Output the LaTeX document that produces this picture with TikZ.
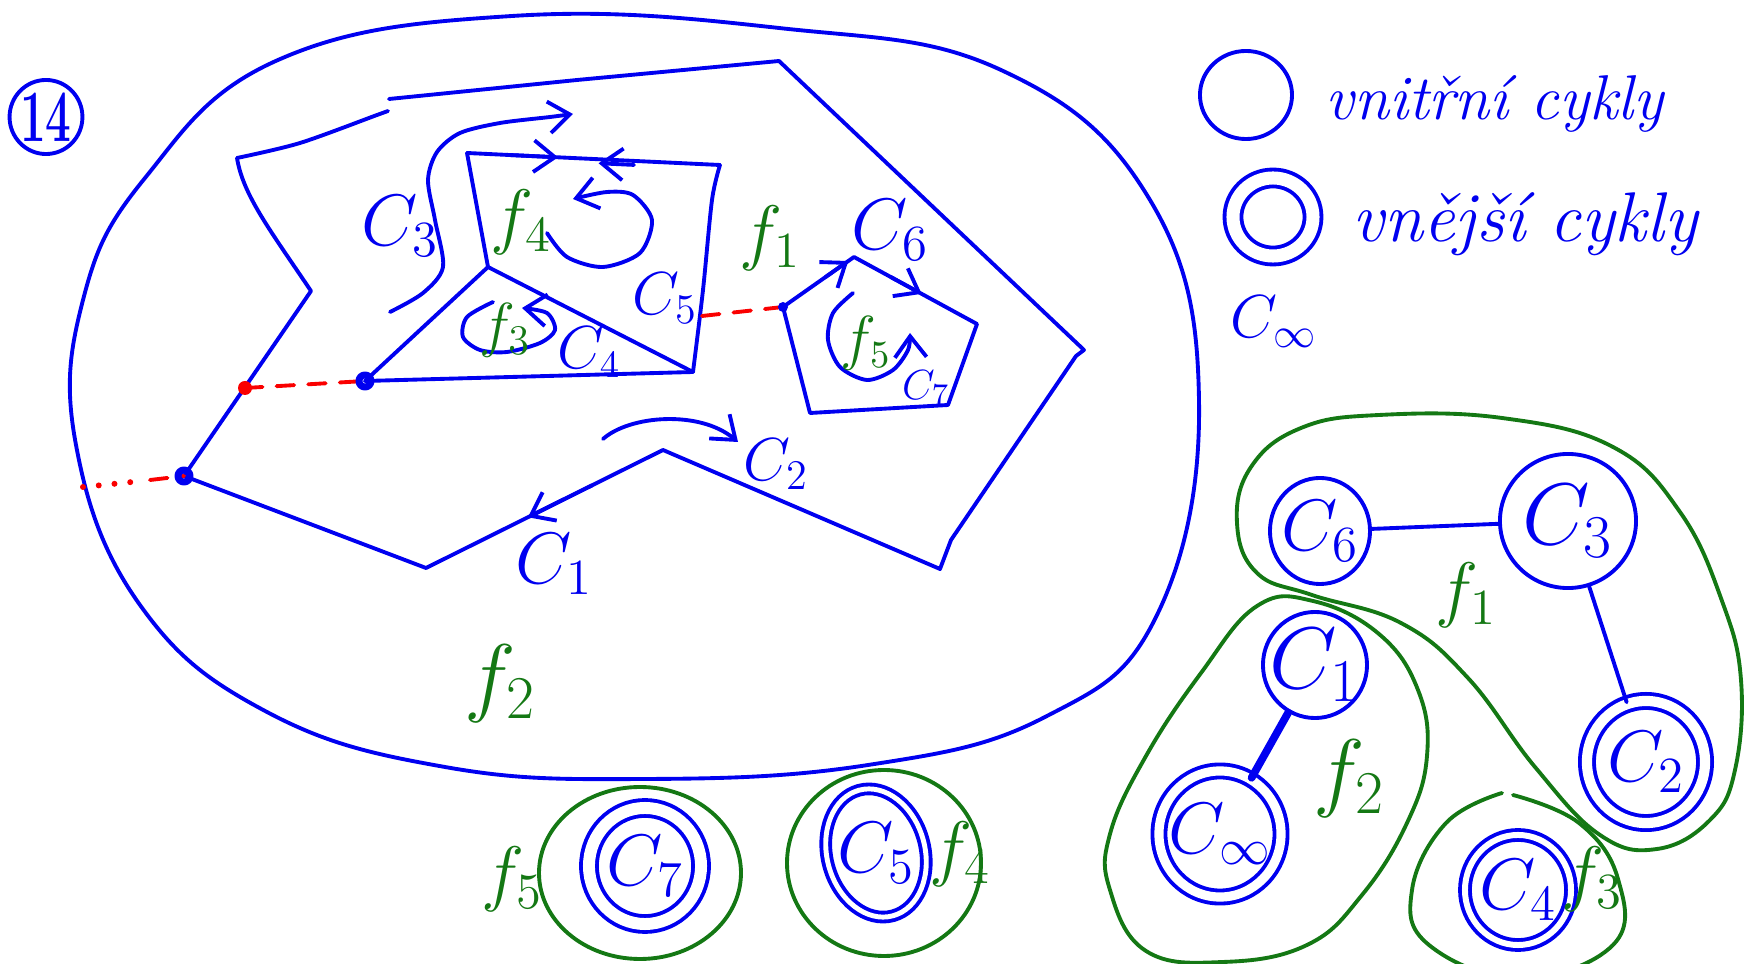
\documentclass[tikz,border=0pt]{standalone}
\usepackage{amsmath,amssymb}
\usepackage{fontspec}
\usepackage{xcolor}
\usepackage{tikz}
\usetikzlibrary{shapes.geometric,arrows.meta,calc}

\definecolor{penblue}{RGB}{0,0,240}
\definecolor{pengreen}{RGB}{20,120,20}
\definecolor{penred}{RGB}{250,0,0}

\begin{document}
\begin{tikzpicture}[x=0.01cm, y=-0.01cm, line width=1.1pt, line cap=round, line join=round,
    >={Straight Barb[length=6pt,width=9pt]},
    pen/.style={draw=penblue},
    crayon/.style={draw=pengreen},
    reddash/.style={draw=penred, dash pattern=on 5pt off 4pt},
    reddot/.style={draw=penred, dash pattern=on 0pt off 4.5pt, line width=1.7pt},
    lbl/.style={text=penblue, font=\fontsize{20}{22}\selectfont},
    flbl/.style={text=pengreen, font=\fontsize{20}{22}\selectfont},
    cyc/.style={ellipse, draw=penblue, inner sep=0pt},
    dcyc/.style={cyc, double=white, double distance=#1},
    dcyc/.default=2.5pt]
\useasboundingbox (0,0) rectangle (1744,964);

% cislo ulohy
\node[draw=penblue, ellipse, minimum width=0.7cm, minimum height=0.74cm, inner sep=0pt,
      text=penblue] (num) at (46,117) {\scalebox{0.62}[1]{\fontsize{21}{22}\selectfont\bfseries 14}};

% vnejsi hranice grafu
\draw[pen] plot[smooth cycle, tension=0.7] coordinates {(512,16) (779,28) (1001,70) (1150,200)
    (1199,400) (1157,615) (1045,717) (868,765) (645,779) (445,767) (267,712) (140,605)
    (76,445) (83,300) (145,178) (278,60)};

% vnejsi mnohouhelnik
\coordinate (o1) at (389,99);
\coordinate (o2) at (779,61);
\coordinate (o3) at (1084,350);
\coordinate (o4) at (951,540);
\coordinate (o5) at (940,569);
\coordinate (pk) at (663,450);
\coordinate (bl) at (426,568);
\coordinate (vL) at (184,476);
\coordinate (nt) at (311,291);
\coordinate (tl) at (237,158);
\draw[pen] (o1) -- (577,80) -- (o2) -- (o3) -- (1076,356) -- (o4) -- (o5) -- (pk) -- (bl) -- (vL) -- (nt)
    .. controls (270,230) and (243,195) .. (tl);
\draw[pen] plot[smooth] coordinates {(tl) (300,143) (377,115) (388,111)};

% ctyrstena uvnitr
\coordinate (q1) at (467,153);
\coordinate (q2) at (720,165);
\coordinate (q3) at (693,372);
\coordinate (q4) at (365,381);
\coordinate (qi) at (488,267);
\coordinate (qr) at (702,316);
\draw[pen] (q1) -- (q2);
\draw[pen] plot[smooth] coordinates {(q2) (712,200) (703,290) (q3)};
\draw[pen] (q3) -- (q4) -- (qi) -- (q1);
\draw[pen] (qi) -- (q3);

% petiuhelnik
\coordinate (p1) at (783,307);
\coordinate (p2) at (854,257);
\coordinate (p3) at (977,324);
\coordinate (p4) at (948,405);
\coordinate (p5) at (810,413);
\draw[pen] (p1) -- (p2) -- (p3) -- (p4) -- (p5) -- cycle;

% mosty
\coordinate (rdot) at (245,388);
\coordinate (lft) at (83,487);
\draw[reddash] (rdot) -- (q4);
\draw[reddash] (qr) -- (p1);
\draw[reddot] (lft) -- (132,482);
\draw[reddash] (150,480) -- (vL);
\fill[penred] (rdot) circle (7);
\draw[pen, line width=2pt] (vL) circle (6);
\draw[pen, line width=2pt] (q4) circle (6);
\fill[penblue] (p1) circle (5);

% smery obchazeni
\draw[pen,->] ($(q1)!0.16!(q2)$) -- ($(q1)!0.36!(q2)$);
\draw[pen,->] ($(q1)!0.66!(q2)+(0,4)$) -- ($(q1)!0.52!(q2)+(0,4)$);
\draw[pen,->] ($(pk)!0.3!(bl)$) -- ($(pk)!0.57!(bl)$);
\draw[pen,->] ($(p1)!0.6!(p2)$) -- ($(p1)!0.92!(p2)$);
\draw[pen,->] ($(p2)!0.3!(p3)$) -- ($(p2)!0.55!(p3)$);
\draw[pen,->] plot[smooth] coordinates {(390,312) (423,293) (443,267) (435,220) (428,180)
    (437,152) (460,133) (500,123) (550,117) (573,114)};
\draw[pen,->] plot[smooth] coordinates {(547,233) (567,257) (603,267) (640,253) (652,220)
    (633,195) (607,192) (573,199)};
\draw[pen,->] plot[smooth] coordinates {(493,302) (467,317) (463,337) (480,350) (507,352)
    (540,343) (555,330) (547,313) (522,308)};
\draw[pen,->] plot[smooth] coordinates {(853,293) (833,313) (828,340) (840,367) (867,380)
    (893,370) (908,350) (910,333)};
\draw[pen,->] (603,439) .. controls (630,415) and (700,410) .. (738,442);

% popisky
\node[lbl] (lc3) at (400,226) {$C_3$};
\node[flbl] (lf4) at (521,222) {$f_4$};
\node[lbl, font=\fontsize{18}{20}\selectfont] (lc5) at (665,298) {$C_5$};
\node[flbl, font=\fontsize{18}{20}\selectfont] (lf3) at (505,330) {$f_3$};
\node[lbl, font=\fontsize{16}{18}\selectfont] (lc4) at (589,352) {$C_4$};
\node[flbl, font=\fontsize{21}{22}\selectfont] (lf1) at (770,238) {$f_1$};
\node[lbl] (lc6) at (890,230) {$C_6$};
\node[flbl, font=\fontsize{16}{18}\selectfont] (lf5) at (866,343) {$f_5$};
\node[lbl, font=\fontsize{13}{15}\selectfont] (lc7) at (926,388) {$C_7$};
\node[lbl, font=\fontsize{17}{19}\selectfont] (lc2) at (776,464) {$C_2$};
\node[lbl] (lc1) at (554,564) {$C_1$};
\node[flbl, font=\fontsize{24}{26}\selectfont] (lf2) at (500,684) {$f_2$};

% legenda
\node[cyc, minimum width=0.92cm, minimum height=0.88cm] (legin) at (1246,95) {};
\node[dcyc=3.7pt, minimum width=0.8cm, minimum height=0.78cm] (legout) at (1273,217) {};
\node[lbl, anchor=base west, inner sep=0pt, font=\fontsize{18}{22}\selectfont\itshape] (tin) at (1324,120) {vnitřní cykly};
\node[lbl, anchor=base west, inner sep=0pt, font=\fontsize{20}{22}\selectfont\itshape] (tout) at (1351,242) {vnější cykly};
\node[lbl, anchor=base west, inner sep=0pt, font=\fontsize{17}{19}\selectfont] (tinf) at (1229,338) {$C_\infty$};

% strom cyklu
\draw[crayon] plot[smooth cycle, tension=0.7] coordinates {(1379,415) (1502,418) (1613,447)
    (1680,512) (1722,601) (1741,680) (1735,770) (1710,820) (1657,849) (1600,835) (1535,767)
    (1468,678) (1401,623) (1312,595) (1257,573) (1237,523) (1251,467) (1301,428)};
\draw[crayon] plot[smooth cycle, tension=0.7] coordinates {(1257,606) (1313,601) (1379,634)
    (1418,690) (1427,756) (1407,823) (1362,895) (1307,945) (1223,962) (1146,951) (1110,890)
    (1110,834) (1146,756) (1201,673)};
\draw[crayon] plot[smooth, tension=0.7] coordinates {(1502,793) (1446,823) (1412,890) (1429,945)
    (1520,978) (1613,945) (1618,879) (1579,823) (1513,795)};
\draw[crayon] (640,873) ellipse [x radius=101, y radius=86];
\draw[crayon] (884,863) ellipse [x radius=97, y radius=93];

\node[cyc, minimum width=1.0cm, minimum height=1.06cm, lbl, font=\fontsize{21}{22}\selectfont] (c6) at (1320,531) {\makebox[0pt]{$C_6$}};
\node[cyc, minimum width=1.36cm, minimum height=1.34cm, lbl, font=\fontsize{27}{28}\selectfont] (c3) at (1568,521) {\makebox[0pt]{$C_3$}};
\node[cyc, minimum width=1.04cm, minimum height=1.06cm, lbl, font=\fontsize{23}{24}\selectfont] (c1) at (1315,665) {\makebox[0pt]{$C_1$}};
\node[dcyc=2.6pt, minimum width=1.22cm, minimum height=1.26cm, lbl, font=\fontsize{21}{22}\selectfont] (cinf) at (1220,834) {\makebox[0pt]{$C_\infty$}};
\node[dcyc=2.9pt, minimum width=1.18cm, minimum height=1.22cm, lbl, font=\fontsize{22}{24}\selectfont] (c2) at (1646,762) {\makebox[0pt]{$C_2$}};
\node[dcyc=1.7pt, minimum width=1.06cm, minimum height=1.10cm, lbl, font=\fontsize{20}{22}\selectfont] (c4) at (1518,890) {\makebox[0pt]{$C_4$}};
\node[dcyc=3.4pt, minimum width=1.12cm, minimum height=1.16cm, lbl] (c7) at (645,866) {\makebox[0pt]{$C_7$}};
\node[dcyc=1.4pt, minimum width=0.98cm, minimum height=1.3cm, rotate=15] (c5) at (876,853) {};
\node[lbl] (lc5b) at (c5) {$C_5$};
\draw[pen] (c6) -- (c3);
\draw[pen] (c3) -- (c2);
\draw[pen, line width=2.2pt] (c1) -- (cinf);

\node[flbl, font=\fontsize{22}{24}\selectfont] (tf1) at (1466,595) {$f_1$};
\node[flbl, font=\fontsize{24}{26}\selectfont] (tf2) at (1349,779) {$f_2$};
\node[flbl] (tf3) at (1592,879) {$f_3$};
\node[flbl, font=\fontsize{22}{24}\selectfont] (tf5) at (512,879) {$f_5$};
\node[flbl] (tf4) at (960,854) {$f_4$};
\end{tikzpicture}
\end{document}
